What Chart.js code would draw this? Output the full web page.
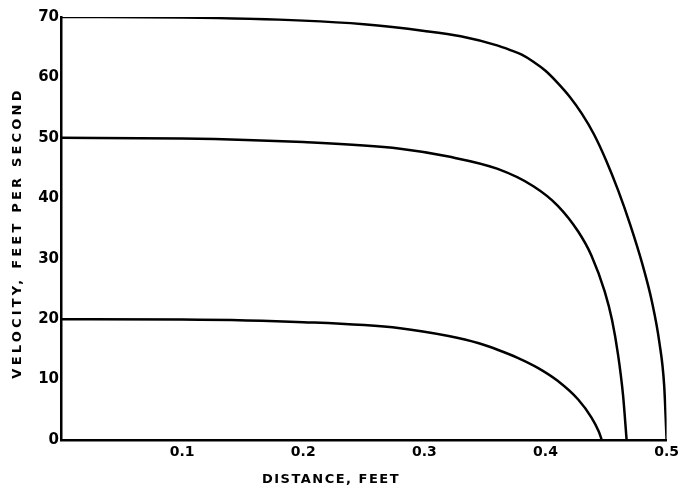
<!DOCTYPE html>
<html>
<head>
<meta charset="utf-8">
<script src="https://cdn.jsdelivr.net/npm/chart.js@4"></script>
<style>
  html, body { margin: 0; padding: 0; background: #fff; }
  canvas { display: block; }
</style>
</head>
<body>
<canvas id="velocityChart" width="683" height="489"></canvas>
<script>
// distance (ft) and velocity (ft/s) for each starting velocity
const dist70 = [0, 0.1, 0.2, 0.25, 0.3, 0.33, 0.36, 0.37, 0.38, 0.39, 0.4, 0.41, 0.42, 0.43, 0.44, 0.45, 0.46, 0.47, 0.48, 0.488, 0.494, 0.498, 0.5];
const vel70 = [70, 69.9, 69.4, 68.8, 67.7, 66.8, 65.3, 64.6, 63.8, 62.6, 61.1, 59.1, 56.8, 54.0, 50.6, 46.3, 41.3, 35.6, 29.1, 22.8, 16.2, 9.0, 0];

const dist50 = [0, 0.1, 0.2, 0.28, 0.32, 0.36, 0.39, 0.41, 0.427, 0.438, 0.449, 0.455, 0.46, 0.464, 0.467];
const vel50 = [50, 49.9, 49.3, 48.2, 46.9, 44.9, 42.0, 38.8, 34.5, 30.5, 24.5, 19.8, 14.0, 7.5, 0];

const dist20 = [0, 0.1, 0.2, 0.28, 0.32, 0.345, 0.361, 0.377, 0.394, 0.41, 0.427, 0.438, 0.444, 0.4465];
const vel20 = [20, 19.95, 19.5, 18.5, 17.2, 16.0, 14.9, 13.6, 11.9, 9.8, 6.7, 3.7, 1.4, 0];

const xTicks = [0, 0.1, 0.2, 0.3, 0.4, 0.5];
const yTicks = [0, 10, 20, 30, 40, 50, 60, 70];
const xTitle = "DISTANCE, FEET";
const yTitle = "VELOCITY, FEET PER SECOND";

function toPoints(xs, ys) {
  return xs.map((x, i) => ({ x: x, y: ys[i] }));
}

function curve(xs, ys) {
  return {
    data: toPoints(xs, ys),
    borderColor: "#000",
    borderWidth: 2.5,
    pointRadius: 0,
    showLine: true,
    fill: false,
    cubicInterpolationMode: "monotone",
  };
}

// axis captions, drawn with spaced lettering
const captions = {
  id: "captions",
  afterDraw(chart) {
    const ctx = chart.ctx;
    ctx.save();
    ctx.fillStyle = "#000";
    ctx.textAlign = "center";
    ctx.textBaseline = "middle";

    ctx.font = "bold 13px 'DejaVu Sans'";
    ctx.letterSpacing = "1.5px";
    ctx.fillText(xTitle, 331, 480);

    ctx.letterSpacing = "3.2px";
    ctx.translate(18, 233);
    ctx.rotate(-Math.PI / 2);
    ctx.fillText(yTitle, 0, 0);
    ctx.restore();
  },
};

new Chart(document.getElementById("velocityChart"), {
  type: "scatter",
  data: {
    datasets: [curve(dist70, vel70), curve(dist50, vel50), curve(dist20, vel20)],
  },
  options: {
    responsive: false,
    animation: false,
    layout: { padding: { top: 17, right: 14, left: 0, bottom: 0 } },
    plugins: { legend: { display: false }, tooltip: { enabled: false } },
    scales: {
      x: {
        type: "linear",
        min: 0,
        max: 0.5,
        grid: { display: false, drawTicks: false, tickLength: 0 },
        border: { display: true, color: "#000", width: 2.5 },
        afterBuildTicks: (scale) => {
          scale.ticks = xTicks.map((v) => ({ value: v }));
        },
        ticks: {
          color: "#000",
          padding: 4,
          font: { family: "DejaVu Sans", size: 14, weight: "bold" },
          callback: (v) => (v === 0 ? "" : v.toFixed(1)),
        },
        afterFit: (scale) => { scale.height = 49; },
      },
      y: {
        min: 0,
        max: 70,
        grid: { display: false, drawTicks: false, tickLength: 0 },
        border: { display: true, color: "#000", width: 2.5 },
        afterBuildTicks: (scale) => {
          scale.ticks = yTicks.map((v) => ({ value: v }));
        },
        ticks: {
          color: "#000",
          padding: 2,
          font: { family: "DejaVu Sans", size: 15, weight: "bold" },
        },
        afterFit: (scale) => { scale.width = 61; },
      },
    },
  },
  plugins: [captions],
});
</script>
</body>
</html>
